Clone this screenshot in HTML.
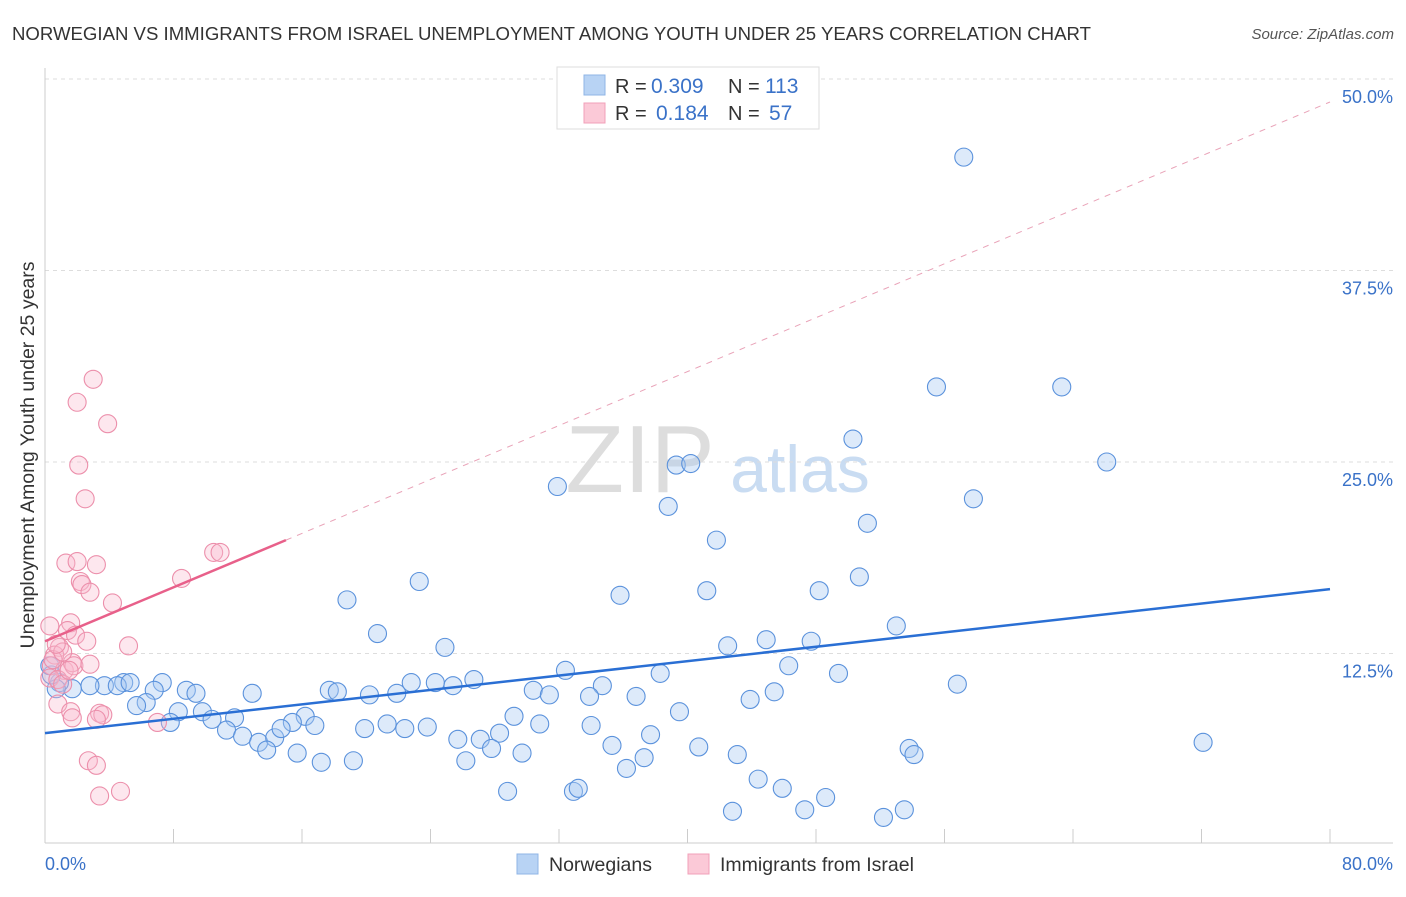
<!DOCTYPE html>
<html><head><meta charset="utf-8">
<style>
body{margin:0;background:#fff;font-family:"Liberation Sans",sans-serif;}
svg text{font-family:"Liberation Sans",sans-serif;}
</style></head>
<body>
<svg id="chart" width="1406" height="892" xmlns="http://www.w3.org/2000/svg">
<text x="12" y="40" font-size="18.6" fill="#333">NORWEGIAN VS IMMIGRANTS FROM ISRAEL UNEMPLOYMENT AMONG YOUTH UNDER 25 YEARS CORRELATION CHART</text>
<text x="1394" y="39" font-size="15" fill="#555" font-style="italic" text-anchor="end">Source: ZipAtlas.com</text>
<text x="640" y="492" font-size="96" fill="#ddd" font-family="Liberation Serif" text-anchor="middle">ZIP</text>
<text x="800" y="492" font-size="66" fill="#c9dcf2" text-anchor="middle">atlas</text>
<g id="grid"></g>
<g id="axes"></g>
<g id="marks"></g>
<text transform="translate(34,455) rotate(-90)" font-size="19.5" fill="#333" text-anchor="middle">Unemployment Among Youth under 25 years</text>
<g>
<rect x="557" y="67" width="262" height="62" fill="#fff" stroke="#ddd"/>
<rect x="584" y="75" width="21" height="20" fill="#b8d3f4" stroke="#8fb5e6"/>
<rect x="584" y="103" width="21" height="20" fill="#fbc9d7" stroke="#f1a0b8"/>
<text x="615" y="93" font-size="20" fill="#333">R =</text>
<text x="651" y="93" font-size="21" fill="#3a72c8">0.309</text>
<text x="728" y="93" font-size="20" fill="#333">N =</text>
<text x="765" y="93" font-size="21" fill="#3a72c8">113</text>
<text x="615" y="120" font-size="20" fill="#333">R =</text>
<text x="656" y="120" font-size="21" fill="#3a72c8">0.184</text>
<text x="728" y="120" font-size="20" fill="#333">N =</text>
<text x="769" y="120" font-size="21" fill="#3a72c8">57</text>
</g>
<g>
<rect x="517" y="854" width="21" height="20" fill="#b8d3f4" stroke="#8fb5e6"/>
<text x="549" y="871" font-size="19.5" fill="#333">Norwegians</text>
<rect x="688" y="854" width="21" height="20" fill="#fbc9d7" stroke="#f1a0b8"/>
<text x="720" y="871" font-size="19.5" fill="#333">Immigrants from Israel</text>
</g>
</svg>
<script>
const xTicks=[0,8,16,24,32,40,48,56,64,72,80];
const yTicks=[12.5,25,37.5,50];
const yTickLabels=["12.5%","25.0%","37.5%","50.0%"];
const xEndLabels=["0.0%","80.0%"];
const blueX=[57.2,55.5,63.3,50.3,39.3,40.2,66.1,31.9,57.8,38.8,51.2,41.8,50.7,23.3,41.2,48.2,35.8,18.8,53.0,20.7,44.9,47.7,42.5,24.9,46.3,32.4,38.3,49.4,56.8,7.3,22.8,24.3,25.4,26.7,34.7,8.8,9.4,6.8,4.9,3.7,4.5,5.3,2.8,1.7,0.9,0.7,0.4,0.3,12.9,17.7,18.2,20.2,21.9,30.4,31.4,33.9,36.8,45.4,43.9,6.3,5.7,8.3,9.8,16.2,16.8,15.4,11.8,10.4,7.8,29.2,30.8,39.5,34.0,21.3,22.4,19.9,23.8,11.3,12.3,28.3,25.7,27.1,37.7,13.3,14.3,14.7,13.8,27.8,35.3,40.7,53.8,54.1,72.1,15.7,29.7,43.1,37.3,17.2,19.2,26.2,36.2,44.4,28.8,32.9,33.2,45.9,48.6,42.8,47.3,53.5,52.2];
const blueY=[44.9,29.9,29.9,26.5,24.8,24.9,25.0,23.4,22.6,22.1,21.0,19.9,17.5,17.2,16.6,16.6,16.3,16.0,14.3,13.8,13.4,13.3,13.0,12.9,11.7,11.4,11.2,11.2,10.5,10.6,10.6,10.6,10.4,10.8,10.4,10.1,9.9,10.1,10.6,10.4,10.4,10.6,10.4,10.2,10.6,10.2,11.1,11.7,9.9,10.1,10.0,9.8,9.9,10.1,9.8,9.7,9.7,10.0,9.5,9.3,9.1,8.7,8.7,8.4,7.8,8.0,8.3,8.2,8.0,8.4,7.9,8.7,7.8,7.9,7.6,7.6,7.7,7.5,7.1,7.3,6.9,6.9,7.2,6.7,7.0,7.6,6.2,6.3,6.5,6.4,6.3,5.9,6.7,6.0,6.0,5.9,5.7,5.4,5.5,5.5,5.0,4.3,3.5,3.5,3.7,3.7,3.1,2.2,2.3,2.3,1.8];
const pinkX=[3.0,2.0,3.9,2.1,2.5,10.5,10.9,1.3,2.0,3.2,8.5,2.2,2.3,2.8,4.2,5.2,0.3,1.6,1.4,1.9,2.6,0.9,0.6,0.4,1.2,1.7,1.8,2.8,0.3,0.8,1.1,1.5,0.8,1.6,1.7,3.4,3.6,3.2,7.0,2.7,3.2,3.4,4.7,0.5,1.1,0.7];
const pinkY=[30.4,28.9,27.5,24.8,22.6,19.1,19.1,18.4,18.5,18.3,17.4,17.2,17.0,16.5,15.8,13.0,14.3,14.5,14.0,13.7,13.3,12.9,12.4,11.7,11.4,11.9,11.7,11.8,10.9,10.8,10.5,11.4,9.2,8.7,8.3,8.6,8.5,8.2,8.0,5.5,5.2,3.2,3.5,12.1,12.6,13.1];
const blueTrend=[7.3,16.7]; // value at x=0 and x=80
const pinkTrend=[13.3,0.44]; // intercept, slope
const pinkSolidEnd=15;
const pinkDashEnd=80;

const NS="http://www.w3.org/2000/svg";
const X=v=>45+v/80*1285;
const Y=v=>845-v/12.5*191.5;
function mk(tag,attrs,parent){const e=document.createElementNS(NS,tag);for(const k in attrs)e.setAttribute(k,attrs[k]);parent.appendChild(e);return e;}
const grid=document.getElementById('grid'),axes=document.getElementById('axes'),marks=document.getElementById('marks');
yTicks.forEach((t,i)=>{
  const l=mk('line',{x1:45,x2:1393,y1:Y(t),y2:Y(t),stroke:'#ddd','stroke-dasharray':'4,4'},grid);
  
  
  const tx=mk('text',{x:1393,y:Y(t)+24,'font-size':18,fill:'#3a72c8','text-anchor':'end'},axes);
  tx.textContent=yTickLabels[i];
  
  
});
const ax=mk('line',{x1:45,x2:1393,y1:843,y2:843,stroke:'#ccc'},axes);


const ay=mk('line',{x1:45,x2:45,y1:68,y2:843,stroke:'#ccc'},axes);


xTicks.forEach(t=>{
  const l=mk('line',{x1:X(t),x2:X(t),y1:829,y2:843,stroke:'#ccc'},axes);
  
  
});
[[0,'start',45],[80,'end',1393]].forEach((a,i)=>{
  const tx=mk('text',{x:a[2],y:870,'font-size':18,fill:'#3a72c8','text-anchor':a[1]},axes);
  tx.textContent=xEndLabels[i];
  
  
});
blueX.forEach((x,i)=>{
  const c=mk('circle',{cx:X(x),cy:Y(blueY[i]),r:9,fill:'rgba(170,202,242,0.4)',stroke:'#5b92dc','stroke-width':1.1},marks);
  
  
});
pinkX.forEach((x,i)=>{
  const c=mk('circle',{cx:X(x),cy:Y(pinkY[i]),r:9,fill:'rgba(248,185,205,0.35)',stroke:'#ec8fab','stroke-width':1.1},marks);
  
  
});
const bt=mk('line',{x1:X(0),y1:Y(blueTrend[0]),x2:X(80),y2:Y(blueTrend[1]),stroke:'#2a6fd4','stroke-width':2.5},marks);


const pd=mk('line',{x1:X(pinkSolidEnd),y1:Y(pinkTrend[0]+pinkTrend[1]*pinkSolidEnd),x2:X(pinkDashEnd),y2:Y(pinkTrend[0]+pinkTrend[1]*pinkDashEnd),stroke:'#e9a3b8','stroke-width':1,'stroke-dasharray':'6,6'},marks);


const pt=mk('line',{x1:X(0),y1:Y(pinkTrend[0]),x2:X(pinkSolidEnd),y2:Y(pinkTrend[0]+pinkTrend[1]*pinkSolidEnd),stroke:'#e8608a','stroke-width':2.5},marks);


</script>
</body></html>
